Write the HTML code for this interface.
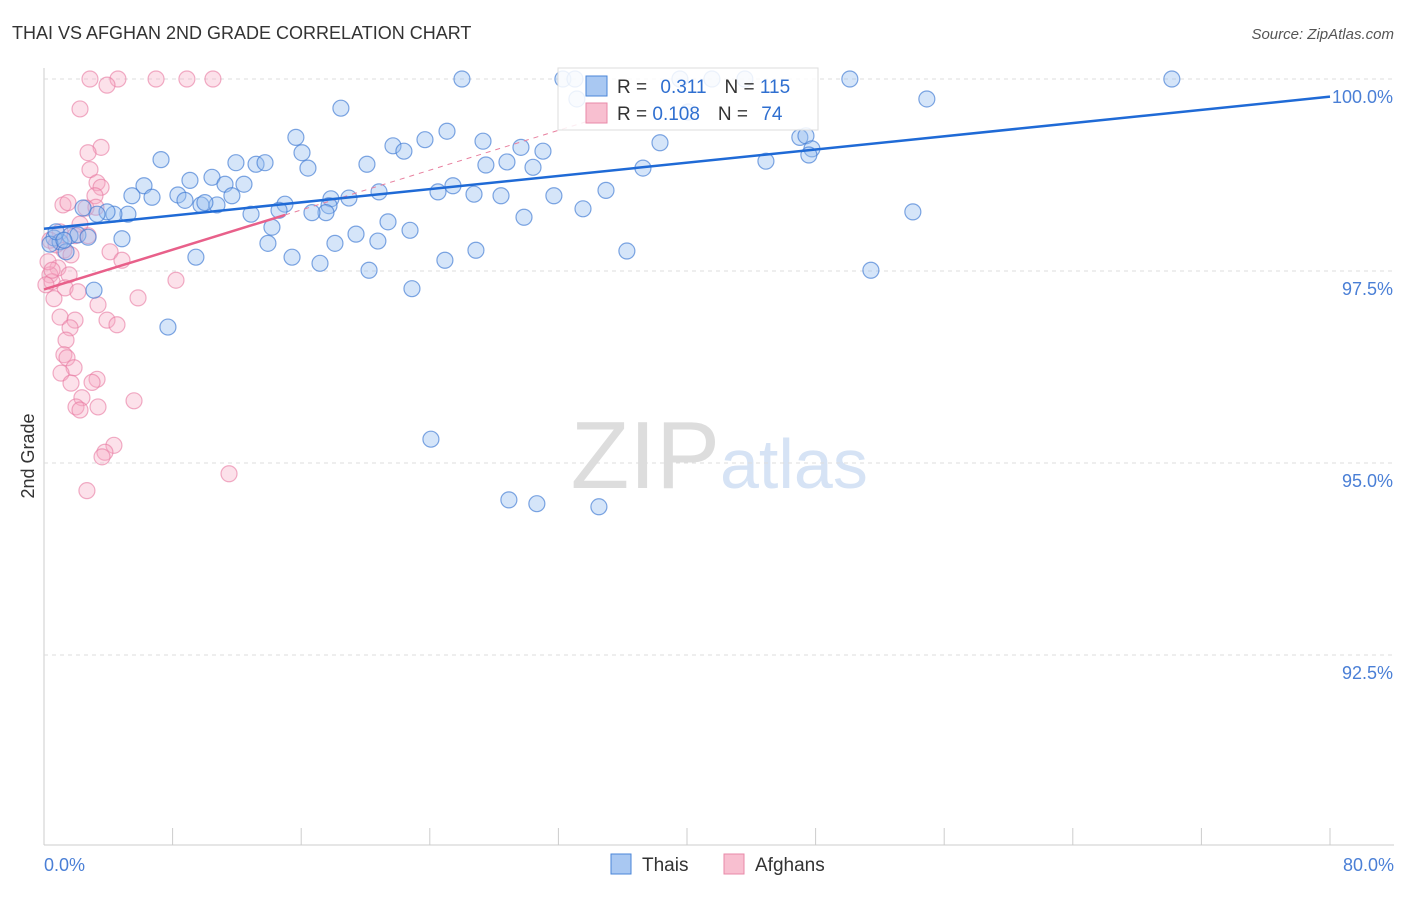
<!DOCTYPE html>
<html><head><meta charset="utf-8"><style>
body{margin:0;background:#fff;font-family:"Liberation Sans",sans-serif}
svg text{font-family:"Liberation Sans",sans-serif}
</style></head><body>
<svg id="c" width="1406" height="892">
<text x="12" y="39" font-size="18" fill="#333">THAI VS AFGHAN 2ND GRADE CORRELATION CHART</text>
<text x="1394" y="39" font-size="15" fill="#555" font-style="italic" text-anchor="end">Source: ZipAtlas.com</text>
<text x="34" y="456" font-size="18" fill="#333" transform="rotate(-90 34 456)" text-anchor="middle">2nd Grade</text>
<text x="720" y="488" font-size="96" fill="#ddd" text-anchor="end" font-family="Liberation Serif">ZIP</text>
<text x="720" y="488" font-size="70" fill="#d6e3f5">atlas</text>
<g id="grid"></g><g id="pts"></g><g id="trend"></g>
<g>
<rect x="558" y="68" width="260" height="62" fill="#fff" fill-opacity="0.85" stroke="#ddd"/>
<rect x="586" y="76" width="21" height="20" fill="#a9c8f2" stroke="#4a86d8"/>
<rect x="586" y="103" width="21" height="20" fill="#f8bfd0" stroke="#e88aa8"/>
<text x="617" y="93" font-size="19" fill="#333">R = <tspan fill="#2f6fd0" dx="8">0.311</tspan><tspan fill="#333" dx="18">N = </tspan><tspan fill="#2f6fd0">115</tspan></text>
<text x="617" y="120" font-size="19" fill="#333">R = <tspan fill="#2f6fd0">0.108</tspan><tspan fill="#333" dx="18">N = </tspan><tspan fill="#2f6fd0" dx="8">74</tspan></text>
</g>
<g>
<rect x="611" y="854" width="20" height="20" fill="#a9c8f2" stroke="#4a86d8"/>
<text x="642" y="871" font-size="19" fill="#333">Thais</text>
<rect x="724" y="854" width="20" height="20" fill="#f8bfd0" stroke="#e88aa8"/>
<text x="755" y="871" font-size="19" fill="#333">Afghans</text>
</g>
</svg>
<script>
const yTicks=[100,97.5,95,92.5];
const yTickLabels=["100.0%","97.5%","95.0%","92.5%"];
const xTicks=[0,8,16,24,32,40,48,56,64,72,80];
const xLabels=["0.0%","80.0%"];
const thaiX=[26.0,32.28,33.03,39.56,41.55,43.6,50.13,70.16,18.47,33.15,54.92,40.06,15.67,21.71,23.7,25.07,27.31,29.67,31.04,16.05,22.39,20.09,11.94,13.19,13.75,7.28,16.42,28.8,27.49,30.42,38.32,47.02,47.4,47.77,47.58,44.91,37.26,10.45,9.08,6.22,11.26,12.44,5.47,6.72,8.33,8.77,9.77,10.76,11.69,10.01,14.99,17.85,18.97,20.84,24.51,25.44,26.75,28.43,31.72,34.96,33.53,29.86,21.4,17.73,17.54,12.88,14.62,16.67,5.22,4.35,3.92,3.3,2.43,14.18,22.77,19.41,18.1,20.77,13.93,15.43,17.17,9.45,4.85,26.87,24.94,36.26,20.22,22.89,54.05,51.44,3.11,7.71,24.07,28.92,30.66,34.52,0.62,1.0,1.37,1.62,2.11,0.37,2.74,0.75,1.24];
const thaiY=[100,100,100,100,100,100,100,100,99.62,99.74,99.74,99.57,99.24,99.13,99.21,99.32,99.19,99.11,99.06,99.04,99.06,98.89,98.91,98.89,98.91,98.95,98.84,98.92,98.88,98.85,99.17,99.24,99.26,99.09,99.01,98.93,98.84,98.72,98.68,98.61,98.63,98.63,98.48,98.46,98.49,98.42,98.36,98.36,98.48,98.39,98.37,98.44,98.45,98.53,98.53,98.61,98.5,98.48,98.48,98.55,98.31,98.2,98.14,98.35,98.26,98.24,98.29,98.26,98.24,98.24,98.27,98.24,98.32,98.07,98.03,97.98,97.86,97.89,97.86,97.68,97.6,97.68,97.92,97.77,97.64,97.76,97.51,97.27,98.27,97.51,97.25,96.77,95.31,94.52,94.47,94.43,97.93,97.88,97.75,97.96,97.97,97.85,97.94,98.01,97.9];
const afgX=[2.86,4.6,6.97,8.89,10.51,3.92,2.24,3.55,2.74,2.86,3.3,3.55,3.17,1.18,1.49,2.61,3.23,2.24,1.0,1.93,2.74,0.37,0.75,1.24,1.68,4.11,4.85,0.87,1.56,8.21,0.37,0.5,1.31,2.11,0.62,5.85,3.36,1.0,1.93,3.92,4.54,1.62,1.37,1.24,1.43,1.87,1.06,3.3,2.99,1.68,5.6,2.36,1.99,3.36,2.24,4.35,3.79,3.61,11.51,2.67,0.25,0.5,0.12];
const afgY=[100,100,100,100,100,99.92,99.61,99.11,99.04,98.82,98.65,98.59,98.48,98.36,98.39,98.32,98.33,98.11,98.01,97.96,97.96,97.9,97.84,97.77,97.71,97.75,97.64,97.54,97.45,97.38,97.45,97.36,97.28,97.23,97.14,97.15,97.06,96.9,96.86,96.86,96.8,96.76,96.6,96.41,96.37,96.24,96.17,96.09,96.05,96.04,95.81,95.85,95.73,95.73,95.69,95.23,95.14,95.08,94.86,94.64,97.62,97.51,97.32];
const thaiTrendX=[0,80], thaiTrendY=[98.05,99.77];
const afgTrendX=[0,15], afgTrendY=[97.26,98.23];
const afgDashX=[15,34.6], afgDashY=[98.23,99.5];
const X=v=>44+v*(1286/80), Y=v=>79+(100-v)*(192/2.5);
const NS="http://www.w3.org/2000/svg";
function mk(t,a,p){const e=document.createElementNS(NS,t);for(const k in a)e.setAttribute(k,a[k]);p.appendChild(e);return e;}
const grid=document.getElementById('grid');
let ax=mk('line',{x1:44,y1:68,x2:44,y2:845,stroke:'#ccc'},grid);


let bx=mk('line',{x1:44,y1:845,x2:1394,y2:845,stroke:'#ccc'},grid);


yTicks.forEach((t,i)=>{
 const g=mk('line',{x1:44,x2:1394,y1:Y(t),y2:Y(t),stroke:'#ddd','stroke-dasharray':'4,4'},grid);
 
 
 const l=mk('text',{x:1393,y:Y(t)+24,'font-size':18,fill:'#4a7fd6','text-anchor':'end'},grid);
 l.textContent=yTickLabels[i];
 
 
});
xTicks.forEach(t=>{
 const k=mk('line',{x1:X(t),x2:X(t),y1:828,y2:845,stroke:'#ccc'},grid);
 
 
});
[[0,'start',44],[80,'end',1394]].forEach((d,i)=>{
 const l=mk('text',{x:d[2],y:871,'font-size':18,fill:'#4a7fd6','text-anchor':d[1]},grid);
 l.textContent=xLabels[i];
 
 
});
const pts=document.getElementById('pts');
afgX.forEach((x,i)=>{
 const c=mk('circle',{cx:X(x),cy:Y(afgY[i]),r:8,fill:'rgba(246,170,195,0.35)',stroke:'rgba(232,120,160,0.6)','stroke-width':1.2},pts);
 
 
});
thaiX.forEach((x,i)=>{
 const c=mk('circle',{cx:X(x),cy:Y(thaiY[i]),r:8,fill:'rgba(150,190,240,0.4)',stroke:'rgba(60,120,210,0.65)','stroke-width':1.2},pts);
 
 
});
const tr=document.getElementById('trend');
let l1=mk('line',{x1:X(afgDashX[0]),y1:Y(afgDashY[0]),x2:X(afgDashX[1]),y2:Y(afgDashY[1]),stroke:'#e8809f','stroke-width':1,'stroke-dasharray':'5,5'},tr);


let l2=mk('line',{x1:X(afgTrendX[0]),y1:Y(afgTrendY[0]),x2:X(afgTrendX[1]),y2:Y(afgTrendY[1]),stroke:'#e8608a','stroke-width':2.5},tr);


let l3=mk('line',{x1:X(thaiTrendX[0]),y1:Y(thaiTrendY[0]),x2:X(thaiTrendX[1]),y2:Y(thaiTrendY[1]),stroke:'#1f6ad6','stroke-width':2.5},tr);


</script>
</body></html>
